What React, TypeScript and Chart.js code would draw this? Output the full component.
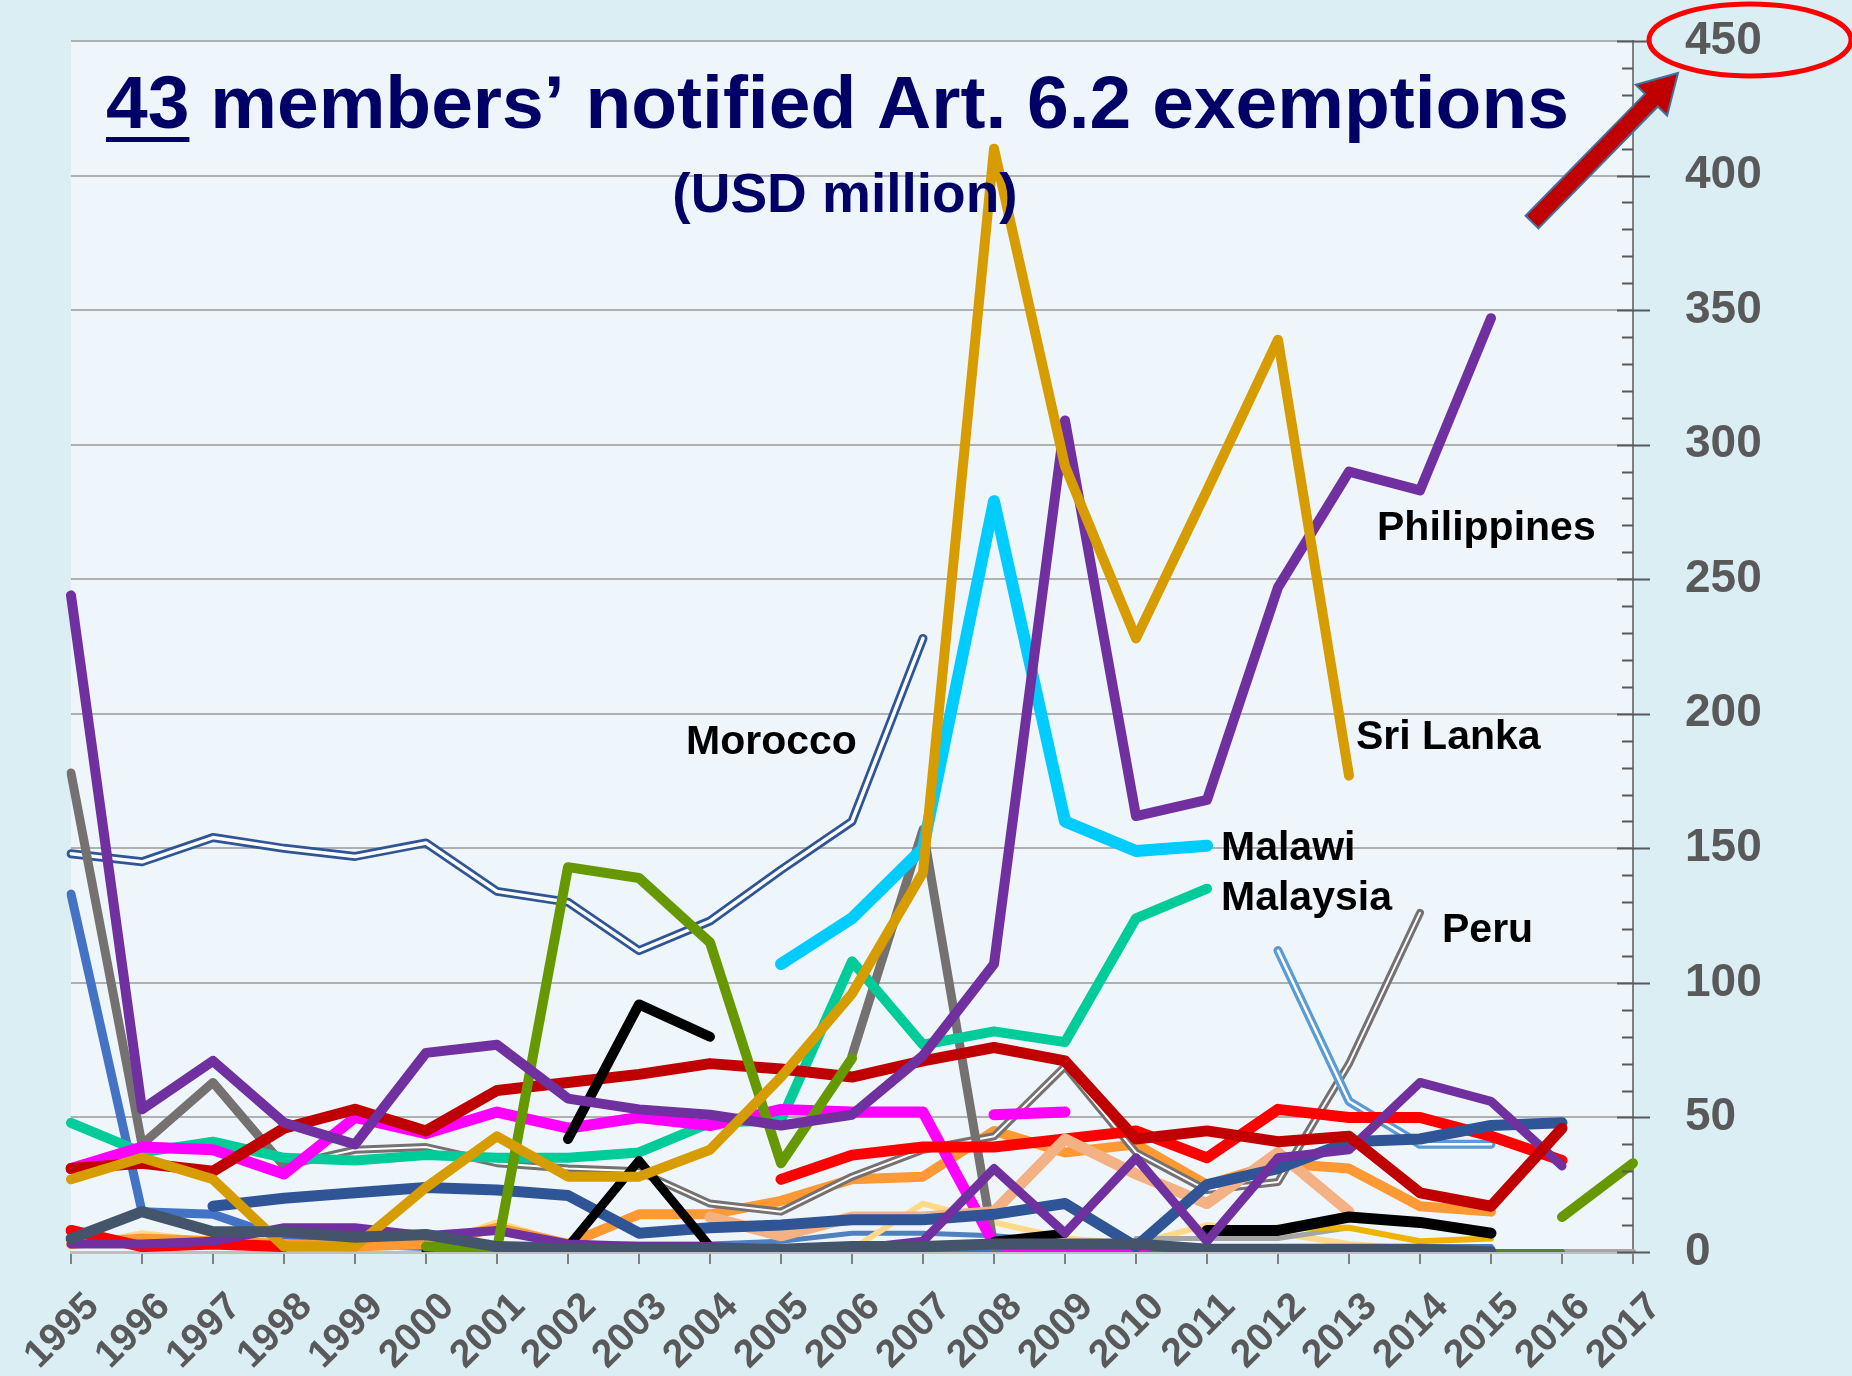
import React, { useEffect, useRef } from 'react';
import { Chart, registerables } from 'chart.js';

Chart.register(...registerables);

const FONT = '"Liberation Sans", Arial, sans-serif';
const N = null;

const years = ['1995', '1996', '1997', '1998', '1999', '2000', '2001', '2002', '2003', '2004', '2005', '2006',
  '2007', '2008', '2009', '2010', '2011', '2012', '2013', '2014', '2015', '2016', '2017'];

const yTicks = [0, 50, 100, 150, 200, 250, 300, 350, 400, 450];

// Named series (USD million)
const philippines = [244, 53, 71, 48, 40, 74, 77, 57, 53, 51, 47, 51, 73, 107, 309, 162, 168, 247, 290, 283, 347];
const sriLanka = [27, 35, 27, 2, 2, 24, 43, 28, 28, 38, 65, 96, 141, 410, 292, 228, 283, 339, 177];
const malawi = [N, N, N, N, N, N, N, N, N, N, 107, 124, 150, 279, 160, 149, 151];
const malaysia = [48, 37, 41, 35, 34, 36, 35, 35, 37, 48, 49, 108, 77, 82, 78, 124, 135];
const morocco = [148, 145, 154, 150, 147, 152, 134, 130, 112, 123, 142, 160, 228];
const peru = [N, N, N, 32, 38, 39, 33, 31, 30, 18, 15, 28, 38, 43, 69, 37, 23, 26, 70, 126];

// Other members
const grayThick = [178, 40, 63, 32, N, N, N, N, N, N, N, 73, 157, 2];
const darkRed = [31, 33, 30, 46, 53, 45, 60, 63, 66, 70, 68, 65, 71, 76, 71, 42, 45, 41, 43, 22, 17, 46];
const red = [8, 2, 3, 2, N, N, N, N, N, N, 27, 36, 39, 39, 42, 45, 35, 53, 50, 50, 43, 34];
const magenta = [31, 39, 38, 29, 50, 44, 52, 46, 50, 47, 53, 52, 52, 3, 0, 0, 0];
const magenta2 = [N, N, N, N, N, N, N, N, N, N, N, N, N, 51, 52];
const olive = [N, N, N, N, N, 2, 1, 143, 139, 115, 33, 72, N, N, N, N, N, N, N, N, N, 13, 33];
const black1 = [N, N, N, N, N, N, N, 42, 92, 80];
const black2 = [N, N, N, N, N, 0, 0, 2, 34, 2, N, N, N, 4, 7];
const black3 = [N, N, N, N, N, N, N, N, N, N, N, N, N, N, N, N, 8, 8, 13, 11, 7];
const orange = [3, 5, 4, 3, 2, 3, 9, 3, 14, 14, 19, 27, 28, 45, 37, 40, 25, 33, 31, 17, 15];
const peach = [N, N, N, N, N, N, N, N, N, 13, 6, 13, 13, 15, 42, 29, 18, 37, 15];
const blue = [133, 15, 14, 5, 3, 2, 2, 2, 1, 1, 1, 1, 1, 1, 1, 1, 1, 1, 1, 1, 1];
const darkBlue = [N, N, 17, 20, 22, 24, 23, 21, 7, 9, 10, 12, 12, 14, 18, 2, 25, 31, 41, 42, 47, 48];
const lightBlue = [N, N, N, N, N, N, N, N, N, N, N, N, N, N, N, N, N, 112, 56, 40, 40];
const slate = [5, 15, 7.5, 7.5, 5.5, 6.5, 2, 1, 1, 1, 1, 2, 2, 3, 3, 3, 1, 1, 1, 1, 0];
const purpleLow = [3, 3, 4, 9, 9, 6, 8, 3, 2, 2, 1, 1, 4, 31, 7, 35, 4, 35, 38, 63, 56, 32];
const lightYellow = [2, 7, 4, 3, 2, 2, 11, 3, 1, 1, 1, 1, 18, 11, 5, 3, 10, 7, 3, 1];
const goldThin = [N, N, N, N, N, N, N, N, N, N, N, N, N, N, N, N, 8, 9, 9, 4, 5];
const steelBlue = [3, 3, 4, 4, 4, 3, 3, 3, 3, 3, 4, 7, 7, 6, 4, 3, 2, 2, 2, 2, 2];
const grayLight = [N, N, N, N, N, N, N, N, N, N, N, N, N, N, N, 5, 5, 5, 9];
const darkGreen = [N, N, N, N, N, N, N, N, N, N, N, N, N, N, N, N, N, N, N, N, 0, 0];
const grayFlat = [N, N, N, N, N, N, N, N, N, N, N, N, N, N, N, N, N, N, N, N, N, 0, 0];

function ds(label: string, data: (number | null)[], color: string, width: number) {
  return {
    label,
    data,
    borderColor: color,
    backgroundColor: color,
    borderWidth: width,
    pointRadius: 0,
    pointHoverRadius: 0,
    tension: 0,
    spanGaps: false,
    fill: false,
    borderCapStyle: 'round' as const,
    borderJoinStyle: 'round' as const,
  };
}

const layers = [
  ds('gray flat', grayFlat, '#A6A6A6', 6),
  ds('dark green', darkGreen, '#548235', 6),
  ds('steel blue', steelBlue, '#4F81BD', 5),
  ds('light yellow', lightYellow, '#FFD98A', 6),
  ds('gray light', grayLight, '#A5A5A5', 5),
  ds('blue', blue, '#4472C4', 9),
  ds('orange', orange, '#FF9933', 10),
  ds('Peru', peru, '#767171', 8),
  ds('Peru inner', peru, '#FFFFFF', 2),
  ds('Morocco', morocco, '#2F5597', 9),
  ds('Morocco inner', morocco, '#FFFFFF', 3.5),
  ds('light blue', lightBlue, '#5B9BD5', 9),
  ds('light blue inner', lightBlue, '#FFFFFF', 2.5),
  ds('gray', grayThick, '#767171', 9),
  ds('Malaysia', malaysia, '#00CC99', 10),
  ds('magenta', magenta, '#FF00FF', 11),
  ds('magenta 2', magenta2, '#FF00FF', 11),
  ds('red', red, '#FF0000', 11),
  ds('peach', peach, '#F4B183', 11),
  ds('dark blue', darkBlue, '#2F5597', 11),
  ds('gold thin', goldThin, '#F0B400', 6),
  ds('black 2', black2, '#000000', 9),
  ds('black 3', black3, '#000000', 11),
  ds('purple low', purpleLow, '#7030A0', 9),
  ds('dark red', darkRed, '#C00000', 11),
  ds('olive', olive, '#669900', 10),
  ds('black 1', black1, '#000000', 10),
  ds('Malawi', malawi, '#00CCFF', 12),
  ds('Philippines', philippines, '#7030A0', 10),
  ds('Sri Lanka', sriLanka, '#D79D00', 10),
  ds('slate', slate, '#44546A', 11),
];

const datasets = layers.map((d, i) => ({ ...d, order: layers.length - i }));

const countryLabels = [
  { text: 'Philippines', x: 1377, y: 540 },
  { text: 'Sri Lanka', x: 1356, y: 749 },
  { text: 'Morocco', x: 686, y: 754 },
  { text: 'Malawi', x: 1221, y: 860 },
  { text: 'Malaysia', x: 1221, y: 910 },
  { text: 'Peru', x: 1442, y: 942 },
];

const decor = {
  id: 'decor',
  beforeDraw(chart: any) {
    const { ctx, chartArea: a, width, height } = chart;
    ctx.save();
    ctx.fillStyle = '#DAEEF3';
    ctx.fillRect(0, 0, width, height);
    ctx.fillStyle = '#EEF6FC';
    ctx.fillRect(a.left, a.top, a.right - a.left, a.bottom - a.top);
    ctx.restore();
  },
  afterDraw(chart: any) {
    const { ctx, chartArea: a } = chart;
    const ys = chart.scales.y;
    ctx.save();
    // y-axis tick marks (major crossing, minor inside)
    ctx.strokeStyle = '#595959';
    ctx.lineWidth = 2;
    for (let v = 0; v <= 450; v += 10) {
      const py = Math.round(ys.getPixelForValue(v)) + 0.5;
      ctx.beginPath();
      if (v % 50 === 0) {
        ctx.moveTo(a.right - 16, py);
        ctx.lineTo(a.right + 17, py);
      } else {
        ctx.moveTo(a.right - 11, py);
        ctx.lineTo(a.right, py);
      }
      ctx.stroke();
    }

    // Title
    ctx.fillStyle = '#000066';
    ctx.textBaseline = 'alphabetic';
    ctx.textAlign = 'left';
    ctx.font = `bold 75px ${FONT}`;
    const tx = 106;
    ctx.fillText('43 members\u2019 notified Art. 6.2 exemptions', tx, 128);
    const w43 = ctx.measureText('43').width;
    ctx.fillRect(tx, 137, w43, 5);
    ctx.textAlign = 'center';
    ctx.font = `bold 55px ${FONT}`;
    ctx.fillText('(USD million)', 845, 212);

    // Country labels
    ctx.fillStyle = '#000000';
    ctx.textAlign = 'left';
    ctx.font = `bold 41px ${FONT}`;
    countryLabels.forEach((l) => ctx.fillText(l.text, l.x, l.y));

    // Red arrow
    const T = { x: 1532, y: 222 };
    const P = { x: 1678, y: 73 };
    const dx = P.x - T.x, dy = P.y - T.y;
    const L = Math.hypot(dx, dy);
    const ux = dx / L, uy = dy / L;
    const nx = -uy, ny = ux;
    const sw = 9, hw = 22, hl = 38;
    const H = { x: P.x - ux * hl, y: P.y - uy * hl };
    ctx.beginPath();
    ctx.moveTo(T.x + nx * sw, T.y + ny * sw);
    ctx.lineTo(H.x + nx * sw, H.y + ny * sw);
    ctx.lineTo(H.x + nx * hw, H.y + ny * hw);
    ctx.lineTo(P.x, P.y);
    ctx.lineTo(H.x - nx * hw, H.y - ny * hw);
    ctx.lineTo(H.x - nx * sw, H.y - ny * sw);
    ctx.lineTo(T.x - nx * sw, T.y - ny * sw);
    ctx.closePath();
    ctx.fillStyle = '#C00000';
    ctx.fill();
    ctx.strokeStyle = '#41719C';
    ctx.lineWidth = 2;
    ctx.stroke();

    // Red ellipse around 450
    ctx.beginPath();
    ctx.ellipse(1750, 40, 101, 36, 0, 0, Math.PI * 2);
    ctx.strokeStyle = '#FF0000';
    ctx.lineWidth = 5;
    ctx.stroke();
    ctx.restore();
  },
};

export default function App() {
  const ref = useRef<HTMLCanvasElement | null>(null);
  useEffect(() => {
    if (!ref.current) return;
    const chart = new Chart(ref.current, {
      type: 'line',
      data: { labels: years, datasets: datasets as any },
      options: {
        animation: false,
        responsive: false,
        devicePixelRatio: 1,
        events: [],
        layout: { padding: { left: 71, top: 41, right: 0, bottom: 0 } },
        plugins: {
          legend: { display: false },
          tooltip: { enabled: false },
          title: { display: false },
        },
        scales: {
          x: {
            type: 'category',
            offset: false,
            grid: {
              display: true,
              drawOnChartArea: false,
              drawTicks: true,
              tickLength: 12,
              color: '#7F7F7F',
              lineWidth: 2,
            },
            border: { display: true, color: '#BFBFBF', width: 3 },
            ticks: {
              autoSkip: false,
              maxRotation: 45,
              minRotation: 45,
              padding: 20,
              labelOffset: 22,
              color: '#595959',
              font: { family: FONT, size: 39, weight: 'bold' },
            },
            afterFit: (s: any) => {
              s.height = 124;
              s.paddingLeft = 0; s.paddingRight = 0; s.paddingTop = 0; s.paddingBottom = 0;
            },
          },
          y: {
            position: 'right',
            min: 0,
            max: 450,
            afterBuildTicks: (s: any) => { s.ticks = yTicks.map((v) => ({ value: v })); },
            grid: { color: '#B0B0B0', lineWidth: 2, drawTicks: false },
            border: { display: true, color: '#7F7F7F', width: 2 },
            ticks: {
              padding: 52,
              color: '#595959',
              font: { family: FONT, size: 46, weight: 'bold' },
            },
            afterFit: (s: any) => {
              s.width = 219;
              s.paddingLeft = 0; s.paddingRight = 0; s.paddingTop = 0; s.paddingBottom = 0;
            },
          },
        },
      },
      plugins: [decor],
    });
    return () => chart.destroy();
  }, []);

  return (
    <div style={{ position: 'fixed', left: 0, top: 0, width: 1852, height: 1376, background: '#DAEEF3' }}>
      <canvas ref={ref} width={1852} height={1376} style={{ display: 'block', width: 1852, height: 1376 }} />
    </div>
  );
}
